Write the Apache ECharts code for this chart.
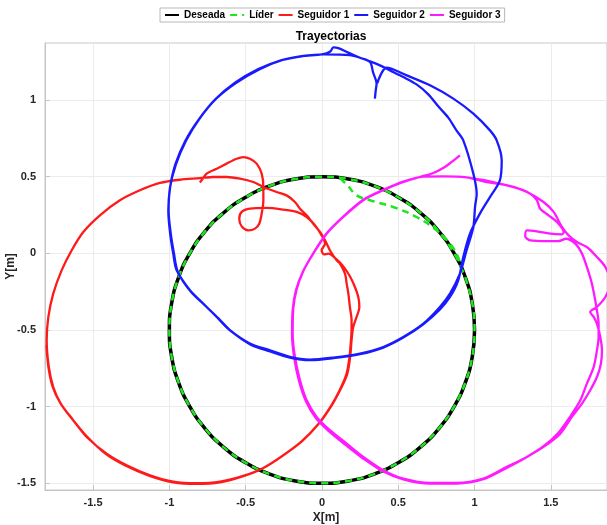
<!DOCTYPE html>
<html>
<head>
<meta charset="utf-8">
<script src="https://cdn.jsdelivr.net/npm/echarts@6/dist/echarts.min.js"></script>
<style>html,body{margin:0;padding:0;background:#fff}#c{width:607px;height:525px}</style>
</head>
<body>
<div id="c"></div>
<script>
const seriesNames = ['Deseada', 'Líder', 'Seguidor 1', 'Seguidor 2', 'Seguidor 3'];
const xTicks = [-1.5, -1, -0.5, 0, 0.5, 1, 1.5];
const yTicks = [-1.5, -1, -0.5, 0, 0.5, 1];

const deseada = [[1,-0.5],[0.985,-0.326],[0.94,-0.158],[0.866,0.0],[0.766,0.143],[0.643,0.266],[0.5,0.366],[0.342,0.44],[0.174,0.485],[0,0.5],[-0.174,0.485],[-0.342,0.44],[-0.5,0.366],[-0.643,0.266],[-0.766,0.143],[-0.866,0.0],[-0.94,-0.158],[-0.985,-0.326],[-1,-0.5],[-0.985,-0.674],[-0.94,-0.842],[-0.866,-1.0],[-0.766,-1.143],[-0.643,-1.266],[-0.5,-1.366],[-0.342,-1.44],[-0.174,-1.485],[0,-1.5],[0.174,-1.485],[0.342,-1.44],[0.5,-1.366],[0.643,-1.266],[0.766,-1.143],[0.866,-1.0],[0.94,-0.842],[0.985,-0.674],[1,-0.5]];

const lider = [[0.118,0.49],[0.17,0.44],[0.227,0.378],[0.315,0.346],[0.467,0.302],[0.62,0.237],[0.751,0.15],[0.839,0.063],[0.89,-0.02],[0.912,-0.09],[0.94,-0.158],[0.985,-0.326],[1,-0.5],[0.985,-0.674],[0.94,-0.842],[0.866,-1.0],[0.766,-1.143],[0.643,-1.266],[0.5,-1.366],[0.342,-1.44],[0.174,-1.485],[0,-1.5],[-0.174,-1.485],[-0.342,-1.44],[-0.5,-1.366],[-0.643,-1.266],[-0.766,-1.143],[-0.866,-1.0],[-0.94,-0.842],[-0.985,-0.674],[-1,-0.5],[-0.985,-0.326],[-0.94,-0.158],[-0.866,0.0],[-0.766,0.143],[-0.643,0.266],[-0.5,0.366],[-0.342,0.44],[-0.174,0.485],[0,0.5],[0.174,0.485],[0.342,0.44],[0.5,0.366],[0.643,0.266],[0.766,0.143],[0.866,0.0],[0.912,-0.09]];

const seguidor1 = [[-0.80,0.462],[-0.789,0.476],[-0.756,0.52],[-0.69,0.552],[-0.625,0.585],[-0.559,0.617],[-0.516,0.628],[-0.472,0.617],[-0.428,0.585],[-0.395,0.52],[-0.384,0.433],[-0.384,0.346],[-0.395,0.259],[-0.411,0.193],[-0.439,0.161],[-0.483,0.15],[-0.526,0.176],[-0.542,0.226],[-0.526,0.27],[-0.472,0.291],[-0.363,0.296],[-0.253,0.285],[-0.166,0.27],[-0.1,0.237],[-0.046,0.183],[-0.002,0.117],[0.02,0.063],[-0.002,0.02],[0.013,-0.007],[0.042,-0.002],[0.096,-0.04],[0.14,-0.085],[0.183,-0.15],[0.216,-0.22],[0.238,-0.285],[0.245,-0.35],[0.227,-0.415],[0.205,-0.48],[0.194,-0.567],[0.185,-0.676],[0.165,-0.79],[0.12,-0.89],[0.065,-0.99],[-0.02,-1.111],[-0.13,-1.225],[-0.26,-1.322],[-0.384,-1.40],[-0.516,-1.452],[-0.668,-1.49],[-0.821,-1.5],[-0.974,-1.49],[-1.127,-1.448],[-1.28,-1.383],[-1.411,-1.307],[-1.542,-1.198],[-1.63,-1.089],[-1.712,-0.98],[-1.761,-0.872],[-1.79,-0.741],[-1.804,-0.567],[-1.793,-0.415],[-1.761,-0.263],[-1.706,-0.111],[-1.64,0.02],[-1.564,0.139],[-1.455,0.248],[-1.324,0.346],[-1.193,0.411],[-1.062,0.459],[-0.931,0.48],[-0.8,0.49],[-0.712,0.498],[-0.625,0.498],[-0.537,0.487],[-0.45,0.465],[-0.384,0.433],[-0.297,0.4],[-0.232,0.378],[-0.177,0.335],[-0.144,0.291],[-0.1,0.248],[-0.057,0.193],[-0.013,0.139],[0.02,0.085],[0.052,0.02],[0.096,-0.046],[0.118,-0.067],[0.151,-0.133],[0.162,-0.198],[0.173,-0.263],[0.183,-0.35],[0.194,-0.437],[0.194,-0.502],[0.19,-0.567],[0.18,-0.68],[0.16,-0.79],[0.115,-0.895],[0.06,-0.995],[-0.025,-1.115],[-0.135,-1.228],[-0.265,-1.325],[-0.39,-1.404],[-0.52,-1.456],[-0.668,-1.494],[-0.821,-1.504],[-0.974,-1.494],[-1.13,-1.452],[-1.285,-1.386],[-1.415,-1.31],[-1.545,-1.19],[-1.635,-1.082],[-1.716,-0.975],[-1.766,-0.866],[-1.793,-0.74],[-1.806,-0.6]];

const seguidor2 = [[0.347,1.009],[0.352,1.06],[0.358,1.107],[0.335,1.18],[0.315,1.248],[0.249,1.276],[0.173,1.309],[0.107,1.339],[0.074,1.343],[0.055,1.317],[0.0,1.298],[-0.133,1.287],[-0.264,1.261],[-0.417,1.202],[-0.57,1.113],[-0.699,1.004],[-0.808,0.872],[-0.896,0.733],[-0.961,0.58],[-0.995,0.43],[-1.007,0.28],[-0.995,0.13],[-0.975,0.0],[-0.952,-0.111],[-0.865,-0.241],[-0.778,-0.328],[-0.69,-0.415],[-0.603,-0.502],[-0.472,-0.589],[-0.341,-0.633],[-0.21,-0.676],[-0.079,-0.693],[0.074,-0.68],[0.249,-0.654],[0.402,-0.611],[0.533,-0.546],[0.664,-0.459],[0.773,-0.35],[0.839,-0.263],[0.904,-0.133],[0.948,0.02],[0.992,0.172],[1.003,0.302],[1.014,0.389],[0.992,0.52],[0.926,0.737],[0.878,0.807],[0.828,0.885],[0.762,0.959],[0.697,1.037],[0.62,1.102],[0.533,1.15],[0.446,1.193],[0.38,1.226],[0.315,1.252],[0.183,1.293],[0.009,1.298],[-0.122,1.287],[-0.258,1.261],[-0.411,1.2],[-0.564,1.111],[-0.695,1.007],[-0.804,0.876],[-0.891,0.735],[-0.957,0.58],[-0.996,0.428],[-1.005,0.276],[-0.991,0.13],[-0.97,0.0],[-0.945,-0.12],[-0.86,-0.25],[-0.77,-0.337],[-0.68,-0.423],[-0.595,-0.508],[-0.47,-0.594],[-0.34,-0.64],[-0.21,-0.68],[-0.079,-0.697],[0.074,-0.684],[0.249,-0.658],[0.402,-0.615],[0.533,-0.55],[0.664,-0.463],[0.77,-0.37],[0.839,-0.285],[0.893,-0.176],[0.926,-0.024],[0.97,0.128],[1.035,0.259],[1.101,0.367],[1.166,0.476],[1.178,0.607],[1.145,0.737],[1.101,0.802],[0.992,0.911],[0.861,1.009],[0.708,1.096],[0.555,1.161],[0.424,1.211],[0.363,1.111]];

const seguidor3 = [[0.904,0.639],[0.85,0.596],[0.80,0.56],[0.73,0.524],[0.642,0.498],[0.533,0.465],[0.402,0.411],[0.271,0.346],[0.14,0.237],[0.031,0.128],[-0.057,-0.002],[-0.122,-0.115],[-0.166,-0.235],[-0.188,-0.36],[-0.192,-0.524],[-0.177,-0.676],[-0.144,-0.828],[-0.1,-0.959],[-0.035,-1.067],[0.052,-1.154],[0.162,-1.241],[0.271,-1.328],[0.402,-1.415],[0.533,-1.47],[0.708,-1.498],[0.882,-1.498],[1.057,-1.47],[1.212,-1.393],[1.343,-1.328],[1.452,-1.263],[1.562,-1.176],[1.638,-1.067],[1.704,-0.98],[1.758,-0.893],[1.802,-0.807],[1.828,-0.72],[1.835,-0.633],[1.824,-0.546],[1.802,-0.459],[1.781,-0.415],[1.758,-0.383],[1.802,-0.35],[1.857,-0.285],[1.89,-0.19],[1.857,-0.089],[1.802,-0.024],[1.736,0.041],[1.671,0.074],[1.616,0.117],[1.573,0.172],[1.518,0.27],[1.452,0.335],[1.343,0.4],[1.212,0.443],[1.081,0.465],[0.948,0.495],[0.795,0.502],[0.664,0.5],[0.533,0.468],[0.402,0.414],[0.271,0.349],[0.14,0.24],[0.031,0.131],[-0.057,0.0],[-0.125,-0.12],[-0.17,-0.24],[-0.192,-0.37],[-0.196,-0.53],[-0.182,-0.68],[-0.15,-0.835],[-0.105,-0.965],[-0.04,-1.075],[0.045,-1.16],[0.155,-1.25],[0.265,-1.335],[0.395,-1.42],[0.533,-1.474],[0.708,-1.502],[0.882,-1.502],[1.057,-1.474],[1.21,-1.4],[1.34,-1.33],[1.45,-1.26],[1.55,-1.17],[1.63,-1.06],[1.693,-0.959],[1.736,-0.85],[1.781,-0.741],[1.802,-0.633],[1.813,-0.546],[1.813,-0.459],[1.802,-0.372],[1.791,-0.307],[1.769,-0.198],[1.736,-0.089],[1.704,-0.002],[1.66,0.063],[1.6,0.095],[1.551,0.08],[1.474,0.08],[1.365,0.085],[1.332,0.111],[1.343,0.15],[1.409,0.143],[1.496,0.128],[1.573,0.124],[1.584,0.139],[1.54,0.204],[1.485,0.248],[1.43,0.291],[1.409,0.346],[1.365,0.389],[1.256,0.433],[1.10,0.47],[0.98,0.49]];

const FONT = '"Liberation Sans", Arial, Helvetica, sans-serif';
const chart = echarts.init(document.getElementById('c'), null, {renderer: 'canvas'});

function lineSeries(name, data, color, width, type, z, smooth) {
  return {
    name: name, type: 'line', data: data, symbol: 'none', showSymbol: false,
    smooth: smooth, clip: true, z: z,
    lineStyle: {color: color, width: width, type: type || 'solid'},
    itemStyle: {color: color},
    emphasis: {disabled: true}
  };
}

chart.setOption({
  animation: false,
  backgroundColor: '#ffffff',
  title: {
    text: 'Trayectorias', left: 326, top: 26, textAlign: 'center',
    textStyle: {fontFamily: FONT, fontWeight: 'bold', fontSize: 12, color: '#000'}
  },
  legend: {
    left: 160, top: 8, orient: 'horizontal',
    itemWidth: 14, itemHeight: 10, itemGap: 4,
    padding: [2, 4],
    borderColor: '#b8b8b8', borderWidth: 1, backgroundColor: '#fff',
    itemStyle: {opacity: 0},
    textStyle: {fontFamily: FONT, fontWeight: 'bold', fontSize: 10, color: '#000'},
    data: seriesNames
  },
  grid: {left: 45, right: 0, top: 43, bottom: 35, show: true, borderColor: '#c8c8c8', borderWidth: 1, containLabel: false, outerBoundsMode: 'none'},
  xAxis: {
    type: 'value', min: -1.815, max: 1.868,
    name: 'X[m]', nameLocation: 'middle', nameGap: 22, nameMoveOverlap: false,
    nameTextStyle: {fontFamily: FONT, fontWeight: 'bold', fontSize: 12, color: '#262626'},
    axisLine: {show: true, onZero: false, lineStyle: {color: '#c4c4c4', width: 1}},
    axisTick: {show: true, inside: true, length: 5, customValues: xTicks, lineStyle: {color: '#c4c4c4'}},
    axisLabel: {customValues: xTicks, margin: 7, fontFamily: FONT, fontWeight: 'bold', fontSize: 11, color: '#262626'},
    splitLine: {show: true, lineStyle: {color: '#ececec', width: 1}}
  },
  yAxis: {
    type: 'value', min: -1.544, max: 1.372,
    name: 'Y[m]', nameLocation: 'middle', nameGap: 28, nameRotate: 90, nameMoveOverlap: false,
    nameTextStyle: {fontFamily: FONT, fontWeight: 'bold', fontSize: 12, color: '#262626'},
    axisLine: {show: true, onZero: false, lineStyle: {color: '#c4c4c4', width: 1}},
    axisTick: {show: true, inside: true, length: 5, customValues: yTicks, lineStyle: {color: '#c4c4c4'}},
    axisLabel: {customValues: yTicks, margin: 9, fontFamily: FONT, fontWeight: 'bold', fontSize: 11, color: '#262626'},
    splitLine: {show: true, lineStyle: {color: '#ececec', width: 1}}
  },
  series: [
    lineSeries(seriesNames[0], deseada, '#000000', 3.5, 'solid', 2, 0.5),
    lineSeries(seriesNames[1], lider, '#1ee61e', 2.5, [7, 5], 3, 0.4),
    lineSeries(seriesNames[2], seguidor1, '#ff1a1a', 2.3, 'solid', 4, 0.3),
    lineSeries(seriesNames[3], seguidor2, '#1a1aff', 2.3, 'solid', 5, 0.3),
    lineSeries(seriesNames[4], seguidor3, '#ff1aff', 2.3, 'solid', 4, 0.3)
  ]
});
</script>
</body>
</html>
